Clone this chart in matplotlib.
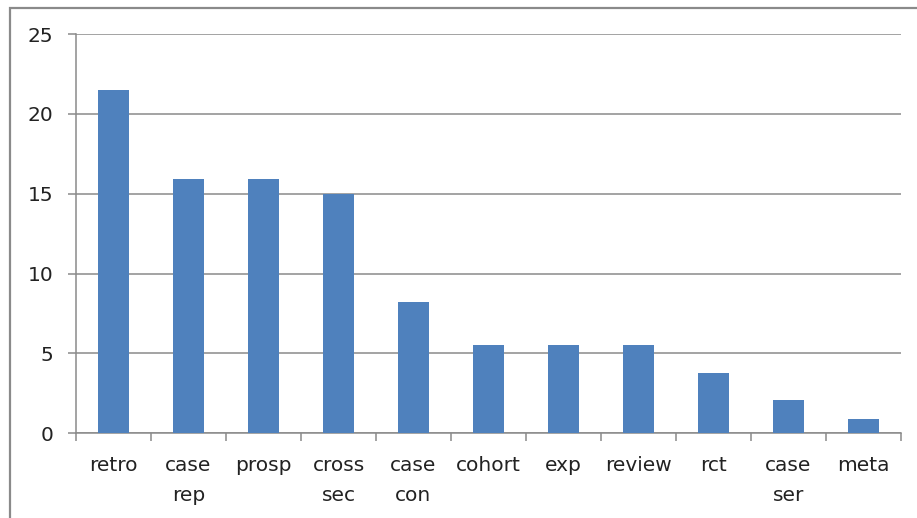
import numpy as np
import matplotlib.pyplot as plt
from matplotlib.patches import Rectangle

# study design categories and their share (%)
labels = ['retro', 'case\nrep', 'prosp', 'cross\nsec', 'case\ncon', 'cohort',
          'exp', 'review', 'rct', 'case\nser', 'meta']
values = [21.5, 15.9, 15.9, 15.0, 8.2, 5.5, 5.5, 5.5, 3.8, 2.1, 0.9]
yticks = [0, 5, 10, 15, 20, 25]

plt.rcParams['font.family'] = 'DejaVu Sans'
gray = '#8a8a8a'

fig = plt.figure(figsize=(9.17, 5.18), dpi=100)
ax = fig.add_axes([76/917, (518-433.3)/518, (901-76)/917, (433.3-34)/518])

x = np.arange(len(values))
ax.bar(x, values, width=0.41, color='#4f81bd', zorder=3)

ax.set_xlim(-0.5, len(values) - 0.5)
ax.set_ylim(0, 25)
ax.set_yticks(yticks)
ax.set_yticklabels([str(v) for v in yticks])
ax.yaxis.grid(True, color=gray, lw=1.1, zorder=0)

# labels centred, tick marks between categories
ax.set_xticks(x)
ax.set_xticklabels(labels, linespacing=1.7, va='top')
ax.set_xticks(np.arange(len(values) + 1) - 0.5, minor=True)
ax.tick_params(axis='x', which='major', length=0, pad=16.5, labelsize=14.5, colors='#222222')
ax.tick_params(axis='x', which='minor', length=6, width=1.1, color=gray)
ax.tick_params(axis='y', length=6, width=1.1, color=gray, pad=10.5, labelsize=14.5,
               labelcolor='#222222')

for s in ['top', 'right']:
    ax.spines[s].set_visible(False)
for s in ['left', 'bottom']:
    ax.spines[s].set_color(gray)
    ax.spines[s].set_linewidth(1.1)

# outer chart border
fig.add_artist(Rectangle((10/917, -0.2), 1.2, (518-7.5)/518 + 0.2,
                         transform=fig.transFigure, fill=False,
                         edgecolor=gray, lw=1.6))

plt.savefig('out.png', dpi=100)
